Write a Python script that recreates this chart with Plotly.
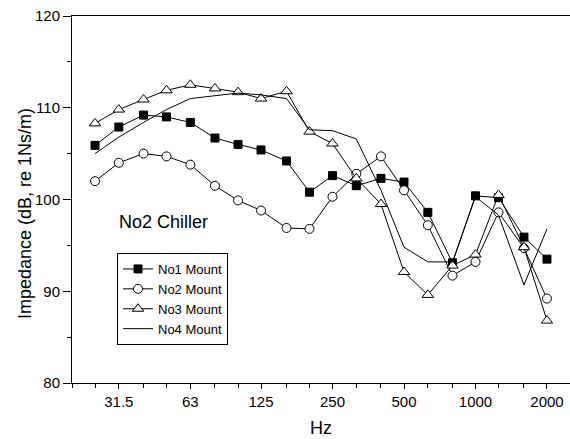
import math
import plotly.graph_objects as go

freqs = [25, 31.5, 40, 50, 63, 80, 100, 125, 160, 200, 250, 315, 400, 500, 630, 800, 1000, 1250, 1600, 2000]
no1_mount = [105.9, 107.9, 109.2, 109.0, 108.4, 106.7, 106.0, 105.4, 104.2, 100.8,
             102.6, 101.5, 102.3, 101.9, 98.6, 93.1, 100.4, 100.2, 95.9, 93.5]
no2_mount = [102.0, 104.0, 105.0, 104.7, 103.8, 101.5, 99.9, 98.8, 96.9, 96.8,
             100.3, 102.8, 104.7, 101.0, 97.2, 91.7, 93.2, 98.6, 94.7, 89.2]
no3_mount = [108.3, 109.8, 110.9, 111.9, 112.5, 112.1, 111.7, 111.0, 111.8, 107.4,
             106.1, 102.3, 99.5, 92.1, 89.6, 92.8, 94.0, 100.5, 94.8, 86.8]
no4_mount = [105.0, 106.8, 108.4, 109.8, 111.0, 111.3, 111.6, 111.4, 111.0, 107.6,
             107.5, 106.6, 101.0, 94.8, 93.2, 93.2, 100.3, 98.3, 90.7, 96.8]

major_ticks = [31.5, 63, 125, 250, 500, 1000, 2000]
major_labels = ["31.5", "63", "125", "250", "500", "1000", "2000"]
minor_ticks = [20, 25, 40, 50, 80, 100, 160, 200, 315, 400, 630, 800, 1250, 1600]

FONT = "Arial, Liberation Sans, sans-serif"

fig = go.Figure()
fig.add_trace(go.Scatter(
    x=freqs, y=no1_mount, name="No1 Mount", mode="lines+markers",
    line=dict(color="black", width=1),
    marker=dict(symbol="square", size=8, color="black", line=dict(color="black", width=1)),
))
fig.add_trace(go.Scatter(
    x=freqs, y=no2_mount, name="No2 Mount", mode="lines+markers",
    line=dict(color="black", width=1),
    marker=dict(symbol="circle", size=9, color="white", line=dict(color="black", width=1)),
))
fig.add_trace(go.Scatter(
    x=freqs, y=no3_mount, name="No3 Mount", mode="lines+markers",
    line=dict(color="black", width=1),
    marker=dict(symbol="triangle-up", size=10, color="white", line=dict(color="black", width=1)),
))
fig.add_trace(go.Scatter(
    x=freqs, y=no4_mount, name="No4 Mount", mode="lines",
    line=dict(color="black", width=1),
))

fig.update_layout(
    width=570, height=439,
    margin=dict(l=72, r=0, t=16, b=56),
    paper_bgcolor="white", plot_bgcolor="white",
    font=dict(family=FONT, color="black", size=15),
    showlegend=True,
    legend=dict(
        x=(117 - 72) / 498, y=(383 - 253) / 367, xanchor="left", yanchor="top",
        bgcolor="white", bordercolor="black", borderwidth=1,
        font=dict(family=FONT, size=13, color="black"),
        tracegroupgap=0,
    ),
    annotations=[
        dict(
            text="No2 Chiller", xref="paper", yref="paper",
            x=(117 - 72) / 498, y=(383 - 222) / 367, xanchor="left", yanchor="middle",
            showarrow=False, font=dict(family=FONT, size=18, color="black"),
        ),
        dict(
            text="Impedance (dB, re 1Ns/m)", xref="paper", yref="paper",
            x=(25 - 72) / 498, y=(383 - 214) / 367, xanchor="center", yanchor="middle",
            textangle=-90, showarrow=False, font=dict(family=FONT, size=18, color="black"),
        ),
    ],
)

fig.update_xaxes(
    type="log", range=[math.log10(20), math.log10(2500)],
    tickmode="array", tickvals=major_ticks, ticktext=major_labels,
    ticks="outside", ticklen=5, tickwidth=1, tickcolor="black",
    minor=dict(tickmode="array", tickvals=minor_ticks, ticks="outside", ticklen=4, tickcolor="black", showgrid=False),
    showline=True, linecolor="black", linewidth=1, mirror=True,
    showgrid=False, zeroline=False,
    tickfont=dict(family=FONT, size=15),
    title=dict(text="Hz", font=dict(family=FONT, size=18), standoff=12),
)
fig.update_yaxes(
    range=[80, 120], tickmode="array", tickvals=[80, 90, 100, 110, 120],
    ticks="outside", ticklen=8, tickwidth=1, tickcolor="black",
    minor=dict(tickmode="array", tickvals=[85, 95, 105, 115], ticks="outside", ticklen=4, tickcolor="black", showgrid=False),
    showline=True, linecolor="black", linewidth=1, mirror=True,
    showgrid=False, zeroline=False,
    tickfont=dict(family=FONT, size=15),
)

fig.write_html("out.html")
